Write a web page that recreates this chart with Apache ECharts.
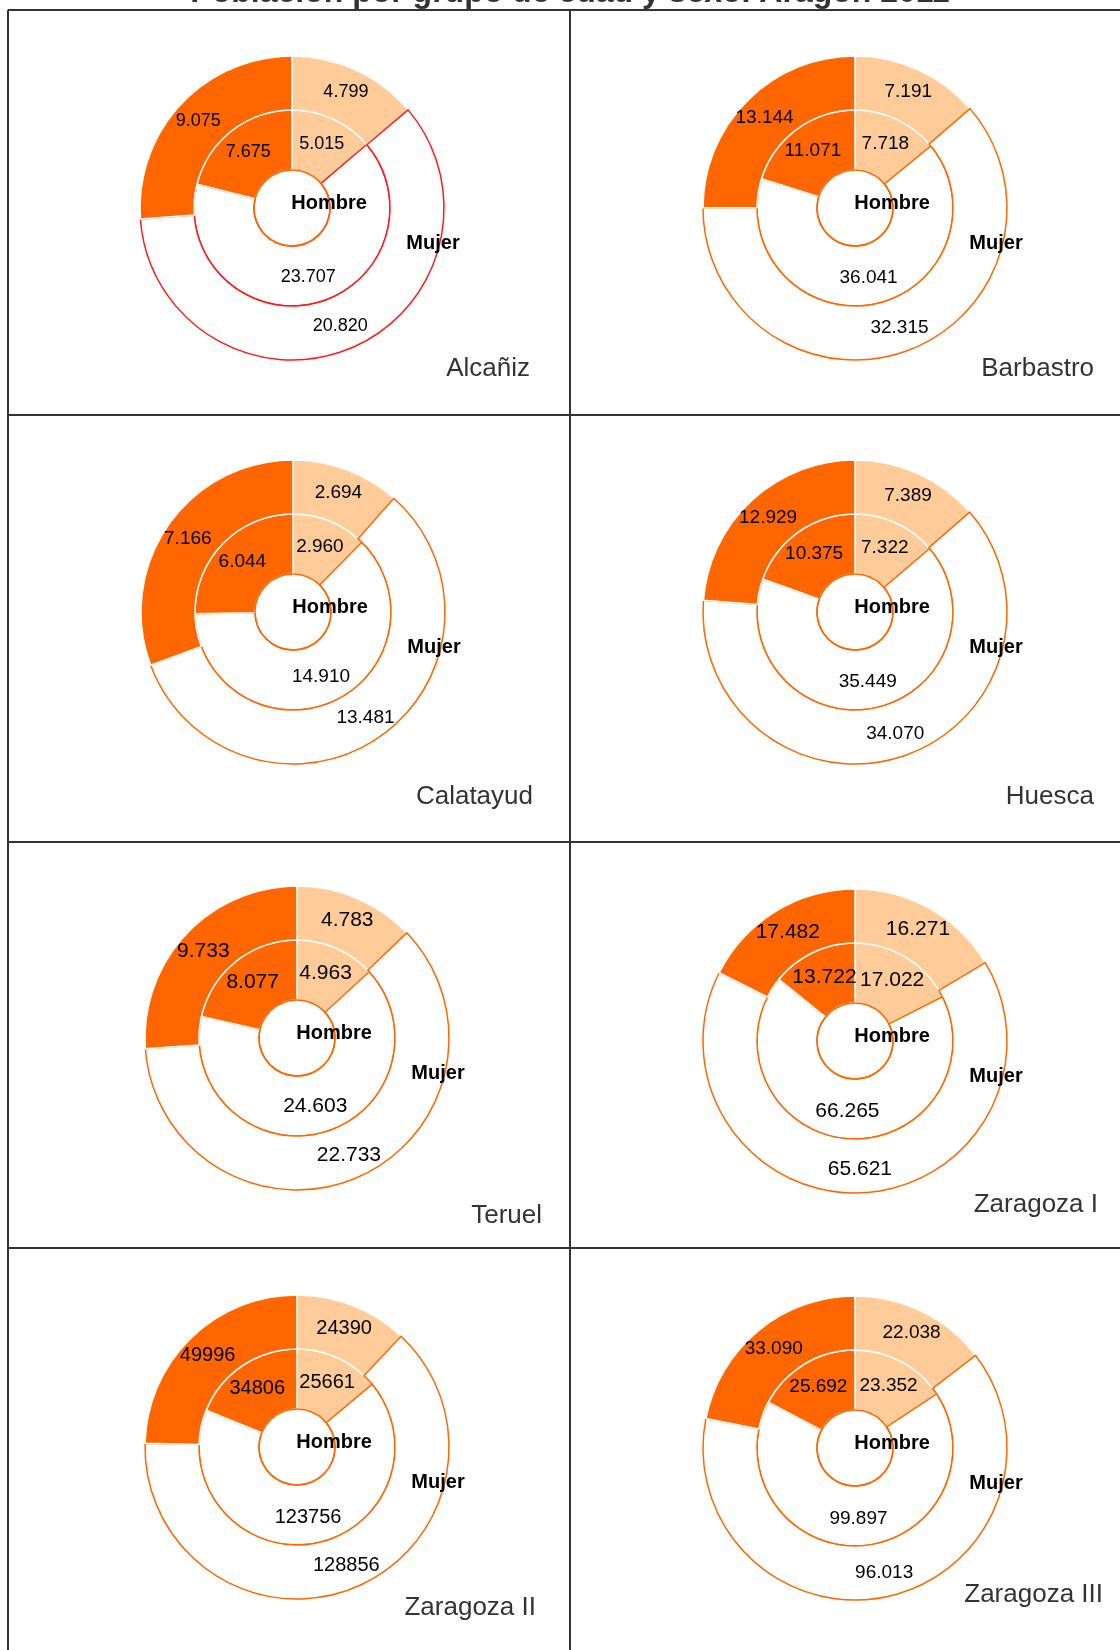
<!DOCTYPE html>
<html>
<head>
<meta charset="utf-8">
<title>Población por grupo de edad y sexo. Aragón 2011</title>
<script src="https://cdn.jsdelivr.net/npm/echarts@6/dist/echarts.min.js"></script>
<style>
  html, body { margin: 0; padding: 0; background: #fff; }
  #chart { width: 1120px; height: 1650px; }
</style>
</head>
<body>
<div id="chart"></div>
<script>
// datos por comarca (poblacion 2011)
const cities = ['Alcañiz', 'Barbastro', 'Calatayud', 'Huesca', 'Teruel', 'Zaragoza I', 'Zaragoza II', 'Zaragoza III']
const hombre0_14 = [5015, 7718, 2960, 7322, 4963, 17022, 25661, 23352]
const hombre15_64 = [23707, 36041, 14910, 35449, 24603, 66265, 123756, 99897]
const hombre65 = [7675, 11071, 6044, 10375, 8077, 13722, 34806, 25692]
const mujer0_14 = [4799, 7191, 2694, 7389, 4783, 16271, 24390, 22038]
const mujer15_64 = [20820, 32315, 13481, 34070, 22733, 65621, 128856, 96013]
const mujer65 = [9075, 13144, 7166, 12929, 9733, 17482, 49996, 33090]
// separador de miles tal como aparece en cada grafico
const thousandSep = ['.', '.', '.', '.', '.', '.', '', '.']

const TITLE = 'Población por grupo de edad y sexo. Aragón 2011'
const FONT = '"Liberation Sans", Arial, sans-serif'
const ORANGE = '#FF6600'
const LIGHT = '#FFCC99'

// layout de cada celda (centro del anillo, etiqueta de la comarca)
const centers = [[292, 208], [855, 208], [293, 612], [855, 612], [297, 1038], [855, 1041], [297, 1447], [855, 1448]]
const cityPos = [[530, 369], [1094, 369], [533, 797], [1094, 797], [542, 1216], [1098, 1205], [536, 1608], [1103, 1595]]
const labelSize = [18, 19, 19, 19, 21, 21, 20, 19]
const outline = ['#FF1A1A', ORANGE, ORANGE, ORANGE, ORANGE, ORANGE, ORANGE, ORANGE]

const R_HOLE = 38
const R_MID = 98
const R_OUT = 152

const fmt = (v, sep) => String(v).replace(/\B(?=(\d{3})+(?!\d))/g, sep)

const ringData = (young, adult, old, i) => [
  { value: young, itemStyle: { color: LIGHT, borderColor: '#fff', borderWidth: 1.5 } },
  { value: adult, itemStyle: { color: '#fff', borderColor: outline[i], borderWidth: 1.5 } },
  { value: old, itemStyle: { color: ORANGE, borderColor: '#fff', borderWidth: 1.5 } },
]

const ring = (name, radius, data, i) => ({
  type: 'pie',
  name: name,
  center: centers[i],
  radius: radius,
  startAngle: 90,
  clockwise: true,
  silent: true,
  z: 2,
  avoidLabelOverlap: false,
  label: {
    show: true,
    position: 'inside',
    color: '#000',
    fontFamily: FONT,
    fontSize: labelSize[i],
    formatter: p => fmt(p.value, thousandSep[i]),
  },
  labelLine: { show: false },
  emphasis: { disabled: true },
  data: data,
})

const series = []
cities.forEach((c, i) => {
  series.push(ring('Hombre', [R_HOLE, R_MID], ringData(hombre0_14[i], hombre15_64[i], hombre65[i], i), i))
  series.push(ring('Mujer', [R_MID, R_OUT], ringData(mujer0_14[i], mujer15_64[i], mujer65[i], i), i))
  // borde naranja del hueco central, por encima de los anillos
  series.push({
    type: 'pie',
    center: centers[i],
    radius: [0, R_HOLE],
    silent: true,
    z: 3,
    label: { show: false },
    labelLine: { show: false },
    emphasis: { disabled: true },
    data: [{ value: 1, itemStyle: { color: 'rgba(255,255,255,0)', borderColor: ORANGE, borderWidth: 1.5 } }],
  })
})

// cuadricula de la tabla
const LINE = { stroke: '#333', lineWidth: 2 }
const graphic = [
  { type: 'line', shape: { x1: 8, y1: 10, x2: 1120, y2: 10 }, style: LINE },
  { type: 'line', shape: { x1: 8, y1: 10, x2: 8, y2: 1650 }, style: LINE },
  { type: 'line', shape: { x1: 570, y1: 10, x2: 570, y2: 1650 }, style: LINE },
  { type: 'line', shape: { x1: 8, y1: 415, x2: 1120, y2: 415 }, style: LINE },
  { type: 'line', shape: { x1: 8, y1: 842, x2: 1120, y2: 842 }, style: LINE },
  { type: 'line', shape: { x1: 8, y1: 1248, x2: 1120, y2: 1248 }, style: LINE },
  {
    type: 'text', x: 570, y: -7, z: 10,
    style: { text: TITLE, font: 'bold 32px ' + FONT, fill: '#333', textAlign: 'center', textVerticalAlign: 'middle' },
  },
]
cities.forEach((c, i) => {
  const [cx, cy] = centers[i]
  graphic.push({
    type: 'text', x: cx + 37, y: cy - 5, z: 10,
    style: { text: 'Hombre', font: 'bold 20px ' + FONT, fill: '#000', textAlign: 'center', textVerticalAlign: 'middle' },
  })
  graphic.push({
    type: 'text', x: cx + 141, y: cy + 35, z: 10,
    style: { text: 'Mujer', font: 'bold 20px ' + FONT, fill: '#000', textAlign: 'center', textVerticalAlign: 'middle' },
  })
  graphic.push({
    type: 'text', x: cityPos[i][0], y: cityPos[i][1], z: 10,
    style: { text: c, font: '26px ' + FONT, fill: '#333', textAlign: 'right', textVerticalAlign: 'middle' },
  })
})

const chart = echarts.init(document.getElementById('chart'), null, { renderer: 'canvas' })
chart.setOption({
  backgroundColor: '#fff',
  animation: false,
  series: series,
  graphic: graphic,
})
</script>
</body>
</html>
